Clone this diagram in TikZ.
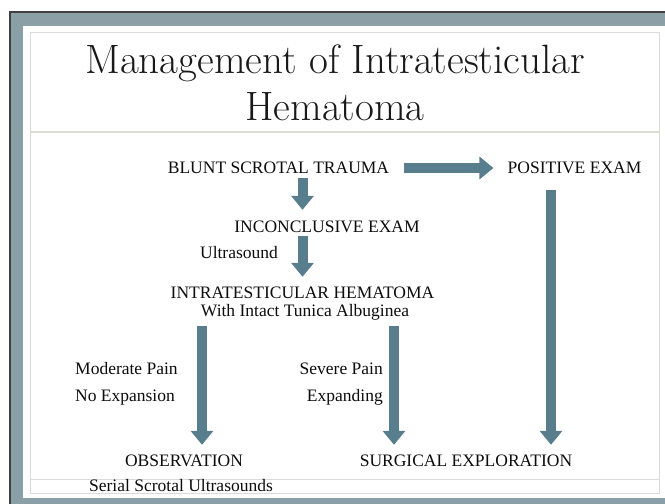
\documentclass[tikz,border=0pt]{standalone}
\usepackage{fontspec}
\newfontfamily\txtfont{Liberation Serif}
\usepackage{xcolor}
\usetikzlibrary{arrows.meta,calc}

\definecolor{framegray}{HTML}{8B9FA6}
\definecolor{arrowblue}{HTML}{587D8C}
\definecolor{rulegray}{HTML}{D9DBD7}

\begin{document}
\begin{tikzpicture}
           [x=1pt,y=-1pt,
            lbl/.style = {font=\txtfont\fontsize{17.5}{20}\selectfont, inner sep=0pt,
                          text height=12pt, text depth=4pt, anchor=base, text=black!95},
            ttl/.style = {font=\fontsize{41}{47}\selectfont, inner sep=0pt, anchor=base, text=black!90},
            flow/.style = {draw=arrowblue, line width=10pt, -{Triangle[width=22pt,length=14pt]}}]
            \useasboundingbox (0,0) rectangle (665,504);
            \fill[white] (0,0) rectangle (665,504);
            \fill[framegray] (10,12) rectangle (665,504);
            \draw[black!75, line width=1.2pt] (10,504) -- (10,12) -- (665,12);
            \fill[white] (23,26) rectangle (665,498);
            \draw[rulegray, line width=0.8pt] (30.5,32) rectangle (659,493);
            \draw[rulegray, line width=2.5pt] (30.5,132) -- (659,132);
            \draw[rulegray, line width=0.8pt] (30.5,479) -- (659,479);

            \node[ttl] (T1) at (335,73) {Management of Intratesticular};
            \node[ttl] (T2) at (335,120) {Hematoma};

            \node[lbl] (blunt) at (278.5,173) {BLUNT SCROTAL TRAUMA};
            \node[lbl] (pos) at (574.5,173) {POSITIVE EXAM};
            \node[lbl] (inc) at (327,232) {INCONCLUSIVE EXAM};
            \node[lbl] (us) at (239,258) {Ultrasound};
            \node[lbl] (hem) at (302.5,298) {INTRATESTICULAR HEMATOMA};
            \node[lbl] (tun) at (305,316) {With Intact Tunica Albuginea};
            \node[lbl, anchor=base west] (mod) at (75,374) {Moderate Pain};
            \node[lbl, anchor=base west] (noex) at (75,401) {No Expansion};
            \node[lbl, anchor=base east] (sev) at (383,374) {Severe Pain};
            \node[lbl, anchor=base east] (expd) at (383,401) {Expanding};
            \node[lbl] (obs) at (184,466) {OBSERVATION};
            \node[lbl] (surg) at (466,466) {SURGICAL EXPLORATION};
            \node[lbl] (ser) at (181,491) {Serial Scrotal Ultrasounds};

            \draw[flow] ($(blunt.east)+(15,-1)$) -- ($(pos.west)+(-14,-1)$);
            \draw[flow] ($(blunt.south -| hem.south)+(0,1)$) -- ($(inc.north -| hem.south)+(0,-10)$);
            \draw[flow] (inc.south -| hem.south) -- ($(hem.north)+(0,-9)$);
            \draw[flow] ($(pos.south)+(-23.5,13)$) -- ($(pos.south |- surg.north)+(-23.5,-9)$);
            \draw[flow] ($(tun.south -| obs.north)+(18,6)$) -- ($(obs.north)+(18,-9)$);
            \draw[flow] ($(tun.south -| surg.north)+(-72,6)$) -- ($(surg.north)+(-72,-9)$);
        \end{tikzpicture}
\end{document}
